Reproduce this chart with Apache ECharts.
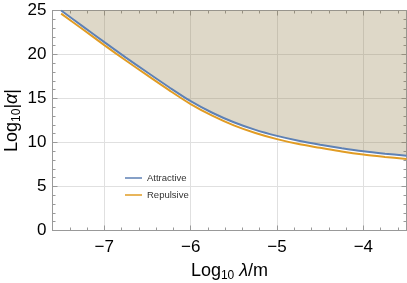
<!DOCTYPE html>
<html><head><meta charset="utf-8">
<script src="https://cdn.jsdelivr.net/npm/echarts@6/dist/echarts.min.js"></script>
<style>html,body{margin:0;padding:0;background:#fff}#c{width:407px;height:283px}</style>
</head><body><div id="c"></div>
<script>
const logLambda = [-7.5,-7.25,-7.0,-6.75,-6.5,-6.25,-6.0,-5.75,-5.5,-5.25,-5.0,-4.75,-4.5,-4.25,-4.0,-3.75,-3.5];
const attractive = [25.0,23.2,21.4,19.65,17.95,16.28,14.7,13.38,12.3,11.43,10.75,10.2,9.75,9.35,9.0,8.73,8.5];
const repulsive = [24.65,22.87,21.07,19.32,17.62,15.95,14.37,13.05,11.95,11.08,10.38,9.82,9.4,8.98,8.63,8.36,8.12];
const xMajorTicks = [-7,-6,-5,-4];
const xMinorTicks = [-7.4,-7.2,-6.8,-6.6,-6.4,-6.2,-5.8,-5.6,-5.4,-5.2,-4.8,-4.6,-4.4,-4.2,-3.8,-3.6];
const seriesNames = ['Attractive','Repulsive'];

const FONT = 'Liberation Sans, Arial, sans-serif';
const frame = '#999';
const xRange = {min:-7.6, max:-3.5};
function xAxisDef(pos, vals, len, withLabels, withSplit, showLine){
  return {type:'value', position:pos, min:xRange.min, max:xRange.max,
    axisLine:{show:showLine, onZero:false, lineStyle:{color:frame,width:1}},
    axisTick:{show:true, inside:true, length:len, customValues:vals, lineStyle:{color:frame}},
    axisLabel:{show:withLabels, customValues:vals, color:'#000', fontSize:17, fontFamily:FONT, margin:8,
      formatter:v=>String(v).replace('-','\u2212')},
    splitLine:{show:withSplit, lineStyle:{color:'#e0e0e0',width:1}}};
}
const nameStyle = {fontSize:18, color:'#000', fontFamily:FONT,
  rich:{sub:{fontSize:12, fontFamily:FONT, color:'#000', padding:[9,0,0,0]},
        it:{fontSize:18, fontStyle:'italic', fontFamily:FONT, color:'#000'}}};
const chart = echarts.init(document.getElementById('c'), null, {renderer:'canvas'});
chart.setOption({
  animation:false,
  grid:{left:52.5, right:0.5, top:10.5, bottom:52.5, containLabel:false, outerBoundsMode:'none'},
  legend:{orient:'vertical', left:120, top:168, icon:'rect', itemWidth:17, itemHeight:1.5, itemGap:7,
    textStyle:{fontSize:9.5, color:'#333', fontFamily:FONT}, data:seriesNames},
  xAxis:[
    Object.assign(xAxisDef('bottom', xMajorTicks, 5, true, true, true), {
      name:'Log{sub|10} {it|λ}/m', nameLocation:'middle', nameGap:30, nameTextStyle:nameStyle}),
    xAxisDef('bottom', xMinorTicks, 3, false, false, false),
    xAxisDef('top', xMajorTicks, 5, false, false, true),
    xAxisDef('top', xMinorTicks, 3, false, false, false)
  ],
  yAxis:[
    {type:'value', position:'left', min:0, max:25, interval:5,
     name:'Log{sub|10}|{it|α}|', nameLocation:'middle', nameGap:30, nameRotate:90, nameMoveOverlap:false,
     nameTextStyle:nameStyle,
     axisLine:{show:true, lineStyle:{color:frame}},
     axisTick:{show:true, inside:true, length:5, lineStyle:{color:frame}},
     minorTick:{show:true, splitNumber:5, length:3, lineStyle:{color:frame}},
     axisLabel:{color:'#000', fontSize:17, fontFamily:FONT, margin:6},
     splitLine:{show:true, lineStyle:{color:'#e0e0e0'}}},
    {type:'value', position:'right', min:0, max:25, interval:5,
     axisLine:{show:true, lineStyle:{color:frame}},
     axisTick:{show:true, inside:true, length:5, lineStyle:{color:frame}},
     minorTick:{show:true, splitNumber:5, length:3, lineStyle:{color:frame}},
     axisLabel:{show:false}, splitLine:{show:false}}
  ],
  series:[
    {name:seriesNames[0], type:'line', xAxisIndex:0, yAxisIndex:0, smooth:0.3, symbol:'none',
     data:logLambda.map((x,i)=>[x,attractive[i]]),
     lineStyle:{color:'#5E81B5', width:2}, itemStyle:{color:'#5E81B5'},
     areaStyle:{origin:'end', color:'rgba(145,125,72,0.3)', opacity:1}, z:3},
    {name:seriesNames[1], type:'line', xAxisIndex:0, yAxisIndex:0, smooth:0.3, symbol:'none',
     data:logLambda.map((x,i)=>[x,repulsive[i]]),
     lineStyle:{color:'#E19C24', width:2}, itemStyle:{color:'#E19C24'}, z:2}
  ]
});
</script></body></html>
